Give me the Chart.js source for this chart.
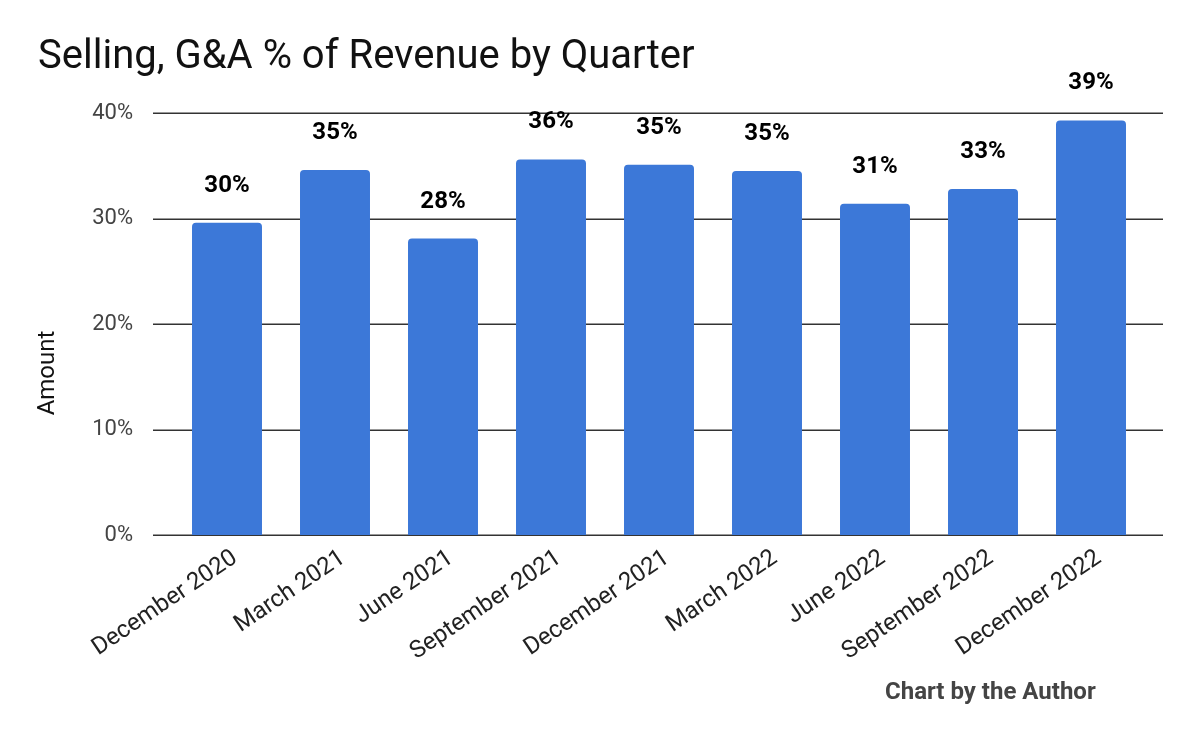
<!DOCTYPE html>
<html>
<head>
<meta charset="utf-8">
<style>
  body { margin: 0; background: #fff; }
  canvas { display: block; }
</style>
<script src="https://cdn.jsdelivr.net/npm/chart.js@4.4.0/dist/chart.umd.min.js"></script>
</head>
<body>
<canvas id="sgaChart" width="1200" height="742"></canvas>
<script>
const quarters = [
  "December 2020", "March 2021", "June 2021", "September 2021", "December 2021",
  "March 2022", "June 2022", "September 2022", "December 2022"
];
// SG&A as % of revenue
const sgaPct = [29.6, 34.6, 28.1, 35.6, 35.1, 34.5, 31.4, 32.8, 39.3];
const yTicks = [0, 10, 20, 30, 40];

const chartTitle = "Selling, G&A % of Revenue by Quarter";
const yTitle = "Amount";
const footNote = "Chart by the Author";

Chart.defaults.font.family = "Roboto, 'Noto Sans', sans-serif";

// gridlines run a bit past the bars on both sides
const gridPlugin = {
  id: "gridExt",
  beforeDatasetsDraw(chart) {
    const { ctx, chartArea, scales } = chart;
    ctx.save();
    ctx.strokeStyle = "#333";
    ctx.lineWidth = 1.5;
    yTicks.forEach(v => {
      const y = Math.round(scales.y.getPixelForValue(v)) + 0.25;
      ctx.beginPath();
      ctx.moveTo(chartArea.left - 20, y);
      ctx.lineTo(chartArea.right + 18, y);
      ctx.stroke();
    });
    ctx.restore();
  }
};

const labelsPlugin = {
  id: "extras",
  afterDatasetsDraw(chart) {
    const { ctx } = chart;
    ctx.save();
    // value labels
    ctx.fillStyle = "#000";
    ctx.font = "bold 24px Roboto";
    ctx.textAlign = "center";
    ctx.textBaseline = "middle";
    chart.getDatasetMeta(0).data.forEach((bar, i) => {
      ctx.fillText(Math.round(sgaPct[i]) + "%", bar.x, bar.y - 37);
    });
    // title
    ctx.textAlign = "left";
    ctx.textBaseline = "alphabetic";
    ctx.font = "40px Roboto";
    ctx.fillStyle = "#111";
    ctx.fillText(chartTitle, 38, 68);
    // y axis title
    ctx.save();
    ctx.translate(48, 373);
    ctx.rotate(-Math.PI / 2);
    ctx.textAlign = "center";
    ctx.textBaseline = "middle";
    ctx.font = "24px Roboto";
    ctx.fillText(yTitle, 0, 0);
    ctx.restore();
    // footer
    ctx.font = "bold 24px Roboto";
    ctx.fillStyle = "#444";
    ctx.fillText(footNote, 885, 699);
    ctx.restore();
  }
};

new Chart(document.getElementById("sgaChart"), {
  type: "bar",
  data: {
    labels: quarters,
    datasets: [{
      data: sgaPct,
      backgroundColor: "#3c78d8",
      borderRadius: { topLeft: 4, topRight: 4 },
      borderSkipped: "bottom",
      barPercentage: 0.648,
      categoryPercentage: 1
    }]
  },
  options: {
    responsive: false,
    animation: false,
    layout: { padding: { left: 0, right: 55, top: 113, bottom: 0 } },
    plugins: {
      legend: { display: false },
      tooltip: { enabled: false }
    },
    scales: {
      x: {
        grid: { display: false },
        border: { display: false },
        ticks: {
          color: "#222",
          font: { size: 24 },
          minRotation: 34,
          maxRotation: 34,
          autoSkip: false,
          padding: 1,
          labelOffset: 8
        },
        afterFit: s => { s.height = 742 - 535; }
      },
      y: {
        min: 0,
        max: 40,
        grid: { display: false },
        border: { display: false },
        ticks: {
          stepSize: 10,
          color: "#444",
          font: { size: 22 },
          padding: 32,
          callback: v => v + "%"
        },
        afterFit: s => { s.width = 173; }
      }
    }
  },
  plugins: [gridPlugin, labelsPlugin]
});
</script>
</body>
</html>
